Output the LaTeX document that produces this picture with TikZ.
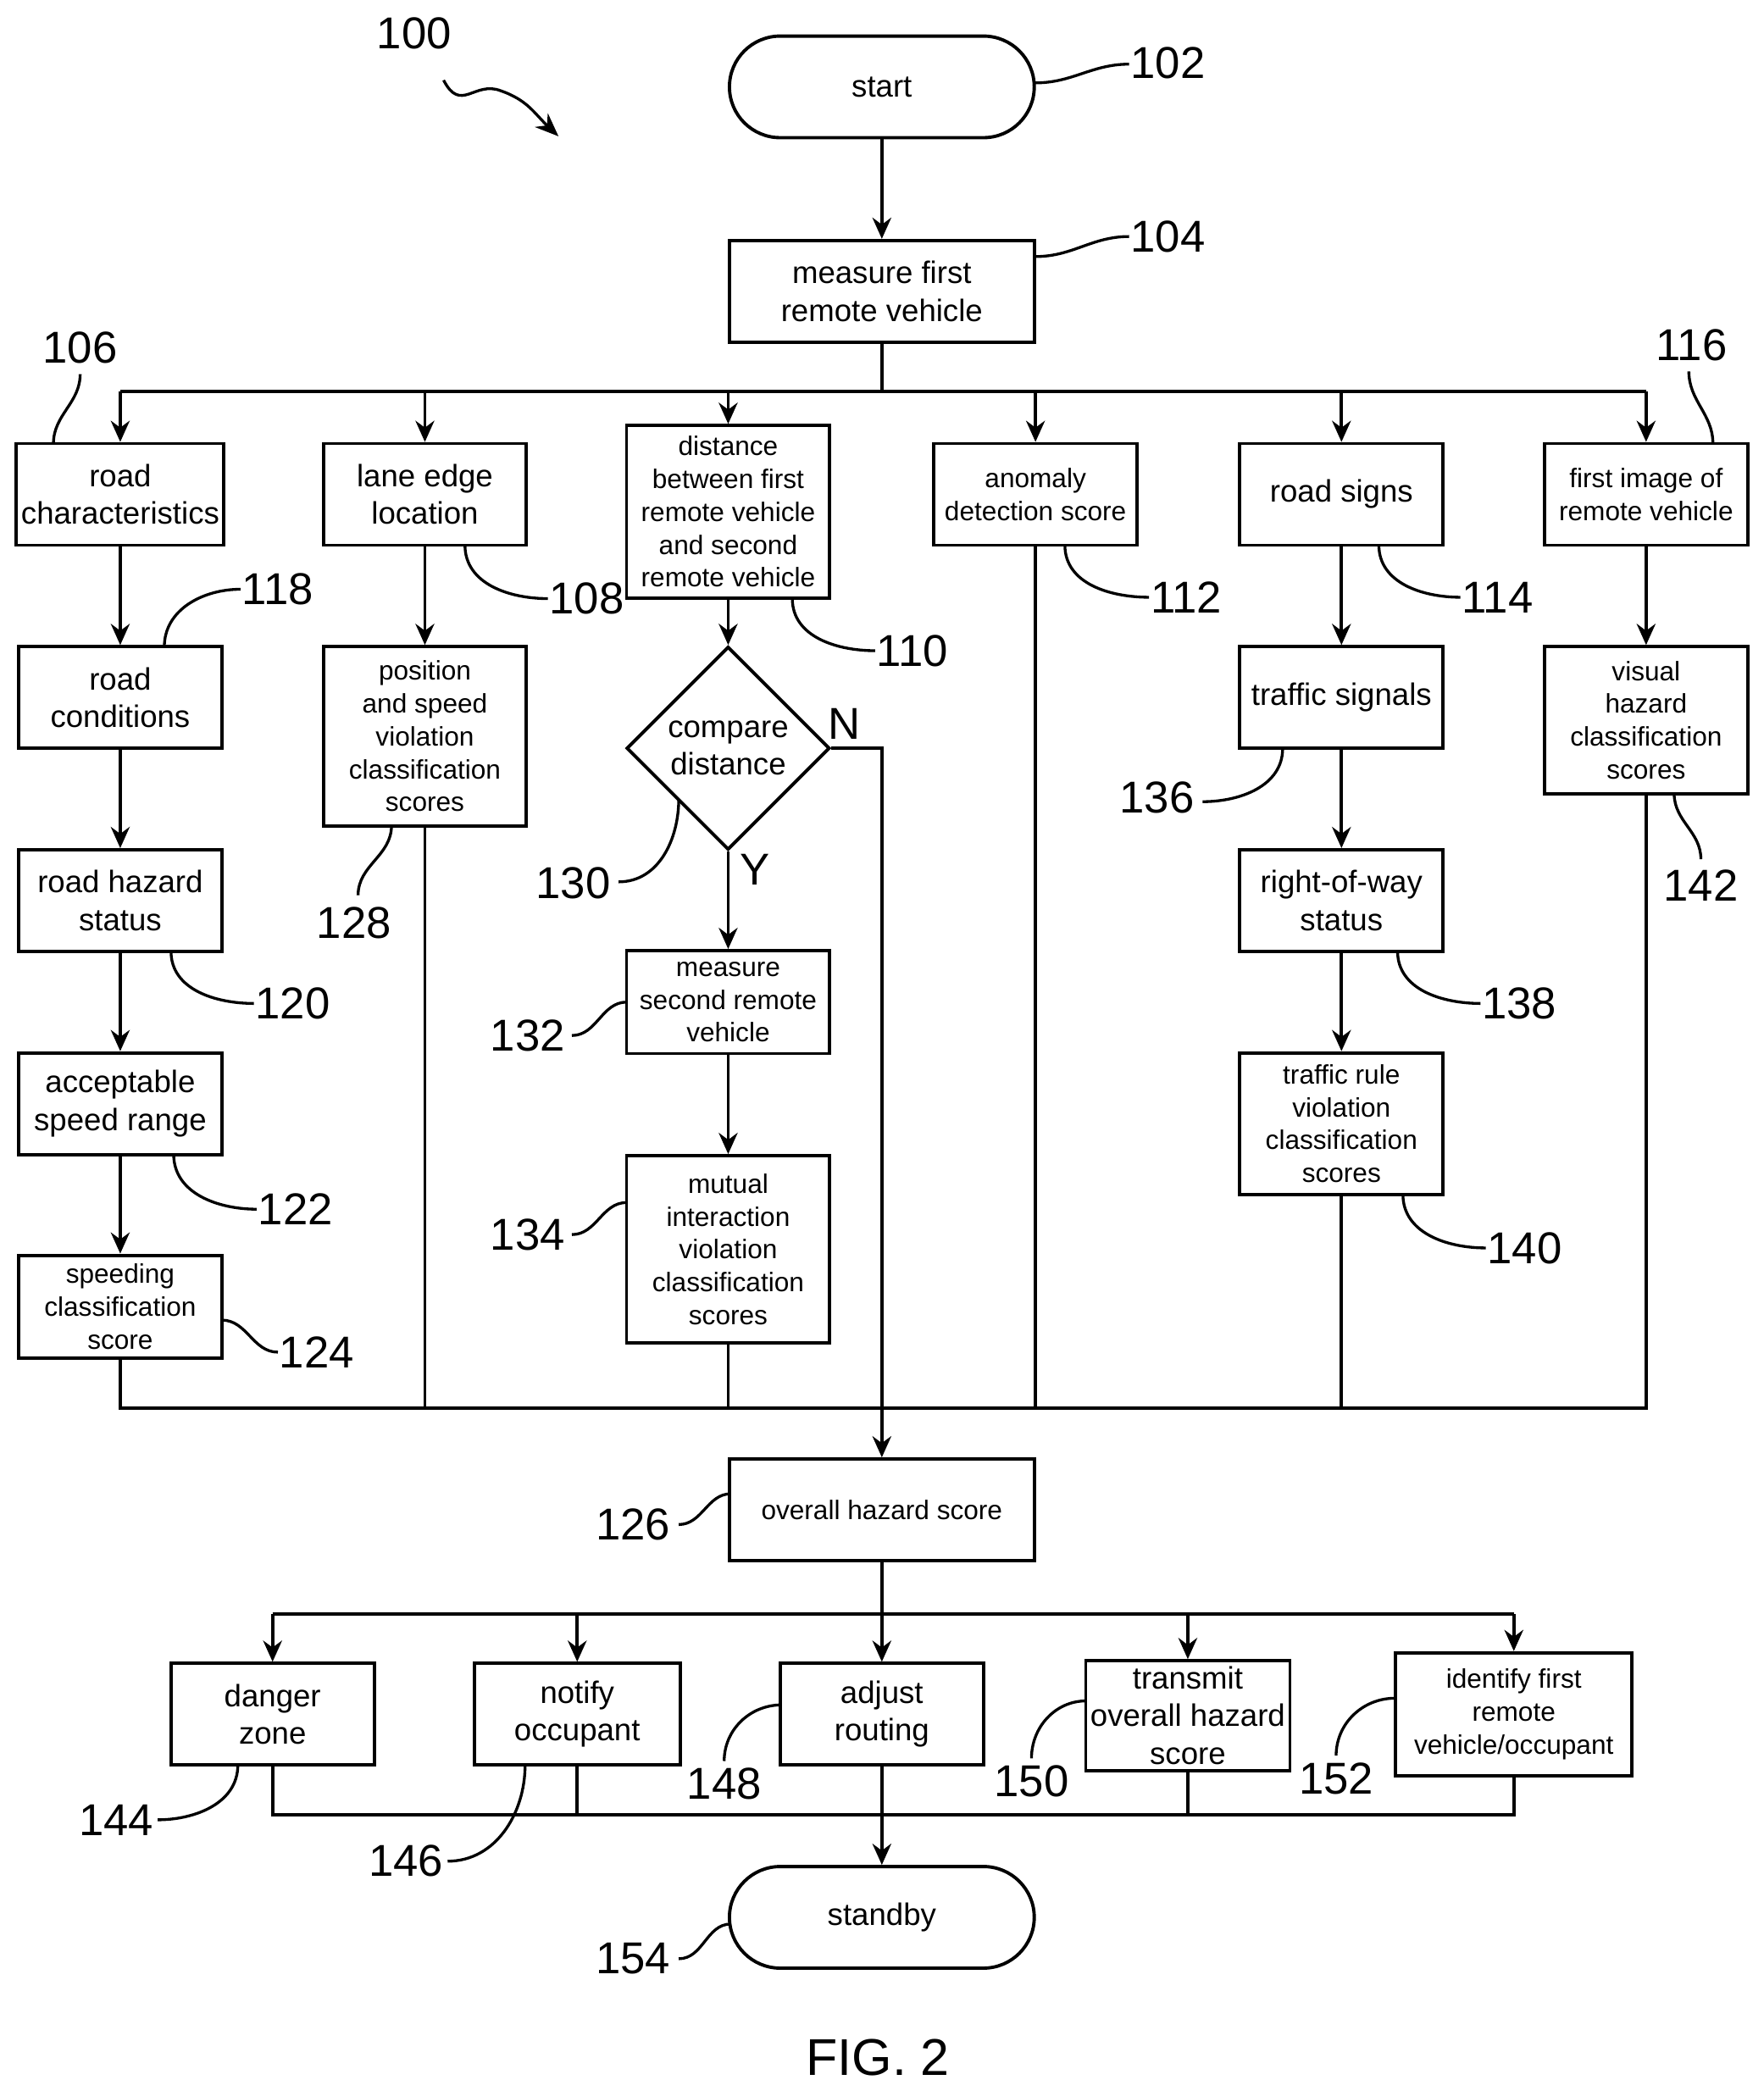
\documentclass[tikz,border=0pt]{standalone}
\usepackage{fontspec}
\setmainfont{Liberation Sans}
\usetikzlibrary{shapes.geometric,arrows.meta}
\begin{document}
\begin{tikzpicture}[x=0.01cm,y=-0.01cm,
  every path/.style={line width=0.7pt},
  box/.style={draw,align=center,inner sep=1pt,minimum width=1.52cm,minimum height=0.76cm,font=\fontsize{6.6}{8}\selectfont},
  sm/.style={font=\fontsize{5.7}{7}\selectfont},
  term/.style={draw,rounded corners=0.38cm,minimum width=2.28cm,minimum height=0.76cm,font=\fontsize{6.6}{8}\selectfont},
  arr/.style={-{Stealth[length=4.5pt,width=4pt]}},
  lbl/.style={font=\fontsize{9.5}{11}\selectfont,inner sep=0pt},
  ld/.style={line width=0.6pt}]
\useasboundingbox (0,0) rectangle (1320,1565);
% top
\node[term] (st) at (660,65) {start};
\node[box,minimum width=2.28cm] (mf) at (660,218) {measure first\\remote vehicle};
\node[box] (rc) at (90,370) {road\\characteristics};
\node[box] (le) at (318,370) {lane edge\\location};
\node[box,sm,minimum height=1.29cm] (di) at (545,383) {distance\\between first\\remote vehicle\\and second\\remote vehicle};
\node[box,sm] (an) at (775,370) {anomaly\\detection score};
\node[box] (rs) at (1004,370) {road signs};
\node[box,sm] (fi) at (1232,370) {first image of\\remote vehicle};
% col 1
\node[box] (rcd) at (90,522) {road\\conditions};
\node[box] (rh) at (90,674) {road hazard\\status};
\node[box] (as) at (90,826) {acceptable\\speed range};
\node[box,sm,minimum height=0.77cm] (sp) at (90,978) {speeding\\classification\\score};
% col 2
\node[box,sm,minimum height=1.34cm] (ps) at (318,551) {position\\and speed\\violation\\classification\\scores};
% col 3
\node[draw,diamond,aspect=1,minimum width=1.52cm,minimum height=1.52cm,inner sep=0pt,align=center,font=\fontsize{6.6}{8}\selectfont] (cd) at (545,560) {compare\\distance};
\node[box,sm,minimum height=0.77cm] (ms) at (545,750) {measure\\second remote\\vehicle};
\node[box,sm,minimum height=1.40cm] (mu) at (545,935) {mutual\\interaction\\violation\\classification\\scores};
% col 5
\node[box] (ts) at (1004,522) {traffic signals};
\node[box] (rw) at (1004,674) {right-of-way\\status};
\node[box,sm,minimum height=1.06cm] (tr) at (1004,841) {traffic rule\\violation\\classification\\scores};
% col 6
\node[box,sm,minimum height=1.10cm] (vh) at (1232,539) {visual\\hazard\\classification\\scores};
% overall
\node[box,sm,minimum width=2.28cm] (oh) at (660,1130) {overall hazard score};
\node[box] (dz) at (204,1283) {danger\\zone};
\node[box,minimum width=1.54cm] (no) at (432,1283) {notify\\occupant};
\node[box] (ad) at (660,1283) {adjust\\routing};
\node[box,minimum height=0.82cm] (tx) at (889,1284) {transmit\\overall hazard\\score};
\node[box,sm,minimum width=1.77cm,minimum height=0.92cm] (id) at (1133,1283) {identify first\\remote\\vehicle/occupant};
\node[term] (sb) at (660,1435) {standby};
\node[font=\fontsize{11}{13}\selectfont] (fig) at (657,1540) {FIG. 2};
% top connections
\draw[arr] (st) -- (mf);
\coordinate (bus) at (660,293);
\draw (mf.south) -- (bus);
\draw (90,293) -- (1232,293);
\foreach \n/\x in {rc/90,le/318,di/545,an/775,rs/1004,fi/1232}
  \draw[arr] (\x,293) -- (\n.north);
\draw[arr] (rc) -- (rcd); \draw[arr] (rcd) -- (rh); \draw[arr] (rh) -- (as); \draw[arr] (as) -- (sp);
\draw[arr] (le) -- (ps);
\draw[arr] (di) -- (cd); \draw[arr] (cd) -- (ms); \draw[arr] (ms) -- (mu);
\draw[arr] (rs) -- (ts); \draw[arr] (ts) -- (rw); \draw[arr] (rw) -- (tr);
\draw[arr] (fi) -- (vh);
% bottom bus
\draw (sp.south) -- (90,1054) -- (1232,1054) -- (vh.south);
\draw (ps.south) -- (318,1054);
\draw (mu.south) -- (545,1054);
\draw (an.south) -- (775,1054);
\draw (tr.south) -- (1004,1054);
\draw[arr] (cd.east) -- (660,560) -- (oh.north);
\node[lbl] at (632,542) {N};
\node[lbl] at (565,651) {Y};
% lower
\draw (oh.south) -- (660,1208);
\draw (204,1208) -- (1133,1208);
\foreach \n/\x in {dz/204,no/432,ad/660,tx/889,id/1133}
  \draw[arr] (\x,1208) -- (\n.north);
\draw (dz.south) -- (204,1358) -- (1133,1358) -- (id.south);
\draw (no.south) -- (432,1358);
\draw (tx.south) -- (889,1358);
\draw[arr] (ad.south) -- (sb.north);
% reference labels
\node[lbl] at (310,25) {100};
\draw[ld,-{Stealth[length=5pt,width=4pt]}] (332,60) .. controls (345,85) and (355,60) .. (375,68) .. controls (395,75) and (400,85) .. (418,102);
\node[lbl,anchor=west] at (845,47) {102};
\draw[ld] (775,62) to[out=0,in=180] (845,48);
\node[lbl,anchor=west] at (845,177) {104};
\draw[ld] (775,192) to[out=0,in=180] (845,177);
\node[lbl] at (60,260) {106};
\draw[ld] (40,332) to[out=90,in=-90] (60,280);
\node[lbl] at (1266,258) {116};
\draw[ld] (1282,332) to[out=90,in=-90] (1264,278);
\node[lbl,anchor=west] at (180,441) {118};
\draw[ld] (123,484) to[out=90,in=180] (180,441);
\node[lbl,anchor=west] at (410,448) {108};
\draw[ld] (348,408) to[out=-90,in=180] (410,448);
\node[lbl,anchor=west] at (655,487) {110};
\draw[ld] (593,448) to[out=-90,in=180] (655,487);
\node[lbl,anchor=west] at (860,447) {112};
\draw[ld] (797,408) to[out=-90,in=180] (860,447);
\node[lbl,anchor=west] at (1093,447) {114};
\draw[ld] (1032,408) to[out=-90,in=180] (1093,447);
\node[lbl] at (265,691) {128};
\draw[ld] (293,618) to[out=-90,in=90] (268,670);
\node[lbl,anchor=east] at (458,661) {130};
\draw[ld] (508,598) to[out=-90,in=0] (463,660);
\node[lbl,anchor=east] at (895,597) {136};
\draw[ld] (960,560) to[out=-90,in=0] (900,600);
\node[lbl] at (1273,663) {142};
\draw[ld] (1253,594) to[out=-90,in=90] (1273,643);
\node[lbl,anchor=west] at (190,751) {120};
\draw[ld] (128,712) to[out=-90,in=180] (190,751);
\node[lbl,anchor=west] at (1108,751) {138};
\draw[ld] (1046,712) to[out=-90,in=180] (1108,751);
\node[lbl,anchor=east] at (424,775) {132};
\draw[ld] (469,750) to[out=180,in=0] (428,775);
\node[lbl,anchor=west] at (192,905) {122};
\draw[ld] (130,864) to[out=-90,in=180] (192,905);
\node[lbl,anchor=east] at (424,924) {134};
\draw[ld] (469,900) to[out=180,in=0] (428,924);
\node[lbl,anchor=west] at (1112,934) {140};
\draw[ld] (1050,894) to[out=-90,in=180] (1112,934);
\node[lbl,anchor=west] at (208,1012) {124};
\draw[ld] (166,988) to[out=0,in=180] (208,1012);
\node[lbl,anchor=east] at (503,1141) {126};
\draw[ld] (547,1118) to[out=180,in=0] (508,1141);
\node[lbl,anchor=east] at (116,1362) {144};
\draw[ld] (178,1321) to[out=-90,in=0] (118,1362);
\node[lbl,anchor=east] at (333,1393) {146};
\draw[ld] (393,1321) to[out=-90,in=0] (335,1393);
\node[lbl] at (542,1335) {148};
\draw[ld] (585,1276) to[out=180,in=90] (542,1318);
\node[lbl] at (772,1333) {150};
\draw[ld] (813,1273) to[out=180,in=90] (772,1316);
\node[lbl] at (1000,1331) {152};
\draw[ld] (1044,1271) to[out=180,in=90] (1000,1314);
\node[lbl,anchor=east] at (503,1466) {154};
\draw[ld] (547,1440) to[out=180,in=0] (508,1466);
\end{tikzpicture}
\end{document}
